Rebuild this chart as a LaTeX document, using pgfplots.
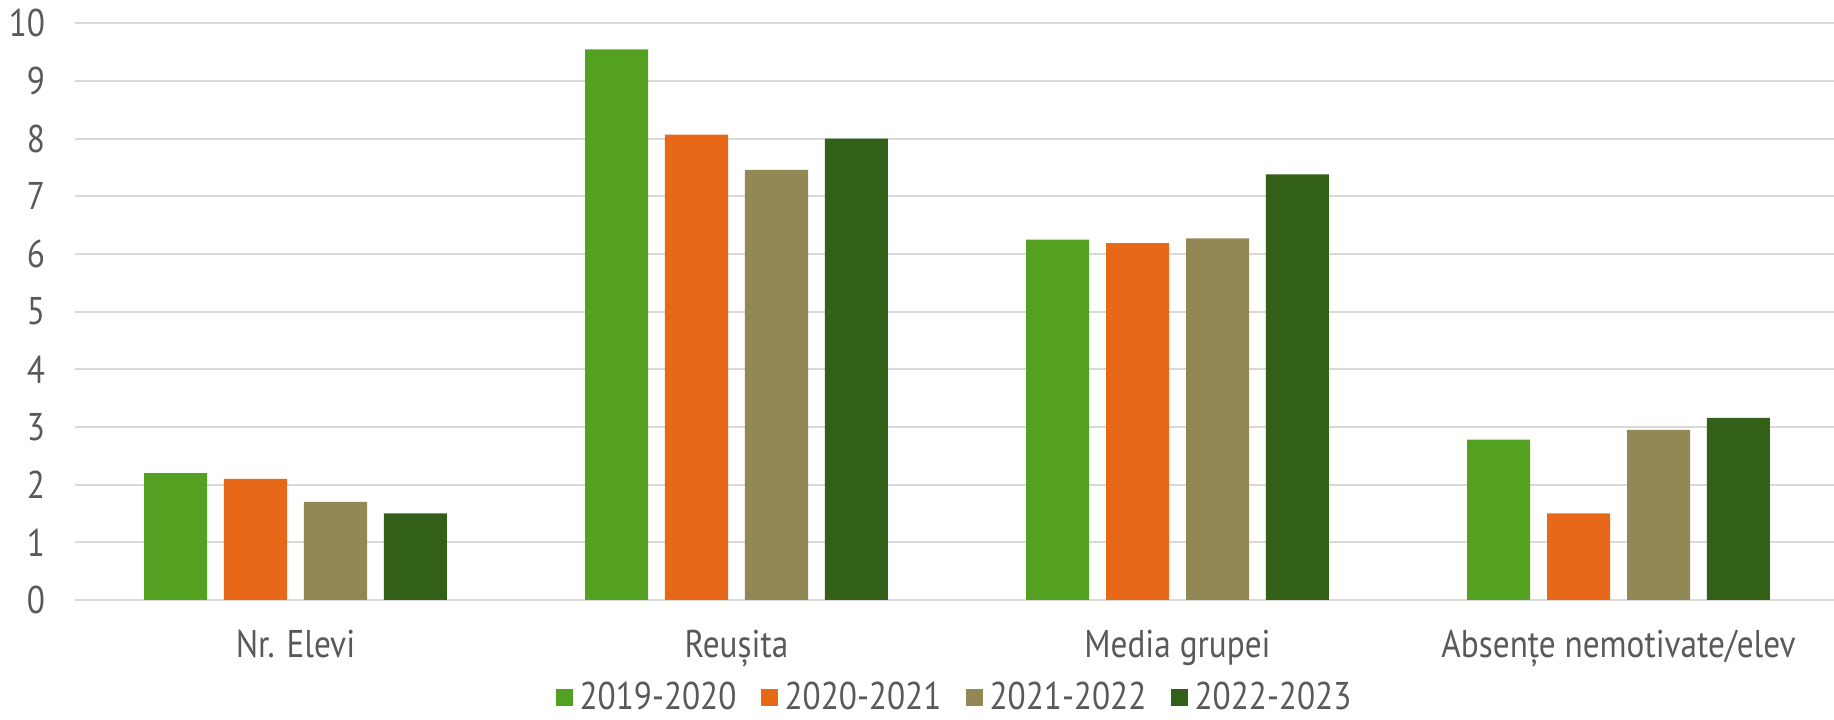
\documentclass[border=0pt]{standalone}
\usepackage{fontspec}
\setmainfont{PT Sans}[FakeStretch=0.86]
\usepackage{pgfplots}
\pgfplotsset{compat=1.18}
\definecolor{y1}{RGB}{84,161,34}
\definecolor{y2}{RGB}{232,104,26}
\definecolor{y3}{RGB}{146,136,85}
\definecolor{y4}{RGB}{51,96,23}
\definecolor{txt}{RGB}{89,89,89}
\definecolor{grd}{RGB}{217,217,217}
\begin{document}
\begin{tikzpicture}
\begin{axis}[
  name=ax, scale only axis, width=17.64cm, height=5.766cm,
  ybar, bar width=0.1429,
  xmin=-0.5, xmax=3.5, ymin=0, ymax=10,
  xtick={0,1,2,3}, ytick={0,1,...,10},
  xticklabels={Nr. Elevi, Reușita, Media grupei, Absențe nemotivate/elev},
  major tick length=0pt,
  axis line style={draw=none},
  ymajorgrids, grid style={grd, line width=0.6pt},
  /pgf/number format/assume math mode=true,
  tick label style={font=\fontsize{11}{13}\selectfont, text=txt},
  yticklabel style={xshift=-5pt},
  xticklabel style={yshift=-5pt},
  legend columns=4,
  legend style={draw=none, at={(0.5,0)}, anchor=center, yshift=-0.98cm,
    font=\fontsize{11}{13}\selectfont, text=txt,
    /tikz/every even column/.append style={column sep=0.17cm}},
  legend image code/.code={\fill[#1] (0cm,-0.085cm) rectangle (0.17cm,0.085cm);},
]
\addplot[fill=y1, draw=none, bar shift=-0.272] coordinates {(0,2.2) (1,9.55) (2,6.25) (3,2.78)};
\addplot[fill=y2, draw=none, bar shift=-0.0907] coordinates {(0,2.1) (1,8.07) (2,6.19) (3,1.5)};
\addplot[fill=y3, draw=none, bar shift=0.0907] coordinates {(0,1.7) (1,7.46) (2,6.27) (3,2.95)};
\addplot[fill=y4, draw=none, bar shift=0.272] coordinates {(0,1.5) (1,8.0) (2,7.38) (3,3.16)};
\legend{2019-2020,2020-2021,2021-2022,2022-2023}
\end{axis}
\pgfresetboundingbox
\path ([xshift=-0.75cm,yshift=-1.2cm]ax.south west) rectangle ([xshift=-0.05cm,yshift=0.234cm]ax.north east);
\end{tikzpicture}
\end{document}
